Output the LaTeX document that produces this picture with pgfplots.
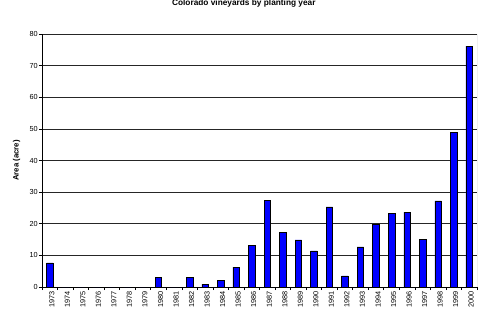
\documentclass[border=0pt]{standalone}
\usepackage{fontspec}
\setmainfont{Liberation Sans}
\usepackage{pgfplots}
\pgfplotsset{compat=1.18}
\begin{document}
\begin{tikzpicture}[x=1pt,y=1pt]
\useasboundingbox (0,0) rectangle (490,317);
\begin{axis}[
  at={(42pt,30pt)}, anchor=south west,
  scale only axis, width=435pt, height=253pt,
  ybar, bar width=6.5pt,
  xmin=-0.5, xmax=27.5, ymin=0, ymax=80,
  ytick={0,10,...,80},
  xtick={0,...,27},
  xticklabels={1973,1974,1975,1976,1977,1978,1979,1980,1981,1982,1983,1984,1985,1986,1987,1988,1989,1990,1991,1992,1993,1994,1995,1996,1997,1998,1999,2000},
  /pgf/number format/assume math mode=true,
  ticklabel style={font=\fontsize{7.3}{8}\selectfont},
  x tick label style={rotate=90, anchor=east, inner sep=1pt, yshift=-2pt},
  y tick label style={anchor=east, inner sep=1pt},
  tick align=outside,
  xtick style={draw=none},
  ytick style={black, line width=0.6pt},
  major tick length=3pt,
  extra x ticks={-0.5,0.5,...,27.5},
  extra x tick labels={},
  extra x tick style={xtick style={draw=black, line width=0.6pt}, major tick length=3pt, grid=none},
  ymajorgrids, grid style={black!85, line width=0.7pt},
  axis x line*=bottom, axis y line*=left,
  axis line style={black, line width=0.9pt, -},
  title={\bfseries Colorado vineyards by planting year},
  title style={at={(axis description cs:0.464,1.0976)}, anchor=center, font=\fontsize{8.3}{9}\selectfont},
  ylabel={\bfseries Area (acre)},
  ylabel style={at={(axis description cs:-0.0586,0.5)}, anchor=center, font=\fontsize{7.8}{9}\selectfont},
]
\addplot[fill={rgb,255:red,0;green,0;blue,255}, draw=black, line width=0.6pt] coordinates {
(0,7.6) (1,0) (2,0) (3,0) (4,0) (5,0) (6,0) (7,3.1) (8,0) (9,3.1)
(10,0.9) (11,2.1) (12,6.3) (13,13.2) (14,27.4) (15,17.2) (16,14.9) (17,11.4)
(18,25.3) (19,3.5) (20,12.7) (21,19.7) (22,23.4) (23,23.7) (24,15.0) (25,27.2)
(26,48.8) (27,76.2)
};
\draw[gray, line width=0.8pt] (rel axis cs:1,0) -- (rel axis cs:1,1);
\end{axis}
\end{tikzpicture}
\end{document}
